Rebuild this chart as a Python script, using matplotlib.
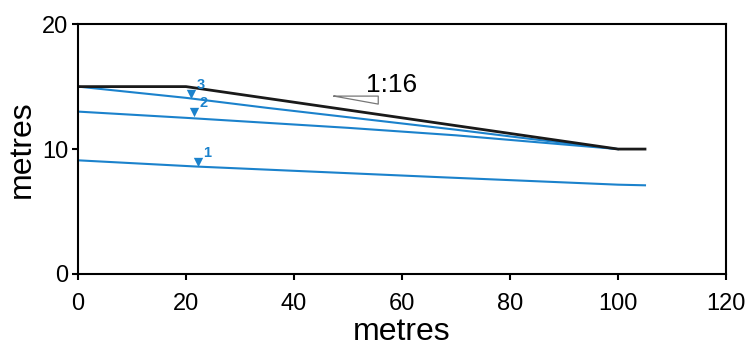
import matplotlib
matplotlib.use("Agg")
import matplotlib.pyplot as plt

plt.rcParams["font.family"] = ["Liberation Sans", "DejaVu Sans"]

# ── data (metres) ─────────────────────────────────────────────────────────────
slope_x = [0, 20, 100, 105]
slope_y = [15, 15, 10, 10]

wt3_x = [0, 20, 35, 50, 70, 85, 100]
wt3_y = [15, 14.1, 13.3, 12.55, 11.55, 10.75, 10.0]

wt2_x = [0, 20, 35, 50, 70, 85, 100]
wt2_y = [13.0, 12.5, 12.1, 11.7, 11.1, 10.55, 10.0]

wt1_x = [0, 22, 67, 100, 105]
wt1_y = [9.1, 8.6, 7.75, 7.15, 7.1]

marker_x = [21, 21.5, 22.2]
marker_y = [14.4, 12.95, 9.0]
marker_lbl = ["3", "2", "1"]

xticks = [0, 20, 40, 60, 80, 100, 120]
yticks = [0, 10, 20]

blue = "#1b82cc"

fig = plt.figure(figsize=(7.56, 3.45), dpi=100)
ax = fig.add_axes([0.1032, 0.2058, 0.8571, 0.7242])

ax.plot(wt1_x, wt1_y, color=blue, lw=1.5)
ax.plot(wt2_x, wt2_y, color=blue, lw=1.5)
ax.plot(wt3_x, wt3_y, color=blue, lw=1.5)
ax.plot(slope_x, slope_y, color="#1a1a1a", lw=2)

ax.scatter(marker_x, marker_y, marker="v", s=45, color=blue, zorder=5, linewidths=0)
for mx, my, lb in zip(marker_x, marker_y, marker_lbl):
    ax.text(mx + 1.0, my + 0.15, lb, color=blue, fontsize=10.5, fontweight="bold",
            ha="left", va="bottom")

# slope marker triangle + text
ax.plot([47.4, 55.6, 55.6, 47.4], [14.24, 14.24, 13.6, 14.24], color="#777777", lw=0.9)
ax.text(53.3, 14.6, "1:16", fontsize=19, ha="left", va="baseline", color="black")

ax.set_xlim(0, 120)
ax.set_ylim(0, 20)
ax.set_xticks(xticks)
ax.set_yticks(yticks)
ax.tick_params(axis="both", direction="out", length=4, width=1.5, labelsize=17)
ax.tick_params(axis="x", pad=10)
ax.tick_params(axis="y", pad=3)
for s in ax.spines.values():
    s.set_linewidth(1.5)

ax.set_xlabel("metres", fontsize=23, labelpad=1)
ax.set_ylabel("metres", fontsize=23, labelpad=4)

fig.savefig("out.png", dpi=100)
